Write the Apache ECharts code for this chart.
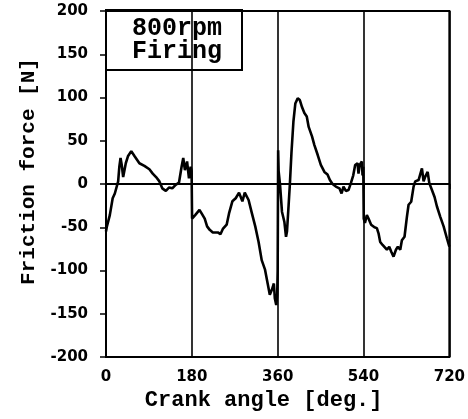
<!DOCTYPE html>
<html>
<head>
<meta charset="utf-8">
<script src="https://cdn.jsdelivr.net/npm/echarts@6/dist/echarts.min.js"></script>
<style>
  html, body { margin: 0; padding: 0; background: #fff; }
  #chart { width: 468px; height: 419px; }
</style>
</head>
<body>
<div id="chart"></div>
<script>
  // crank angle [deg.]
  let angle = [
    0, 1.5, 4, 8, 14, 18.5, 22, 25.5, 28, 30.5, 33, 36, 41.5, 46, 53, 60, 70, 80.5, 91, 98,
    105, 112, 118, 125.5, 132.5, 139, 146, 153, 158.5, 162, 165.5, 170, 174, 177.5, 179.5,
    180.5, 183.5, 187, 190, 196, 200.5, 207, 212, 217.5, 224, 234.5, 240, 245, 253, 258,
    265, 272, 279, 282, 286, 291, 294.5, 299, 306, 313, 320, 326.5, 333.5, 339, 343.5, 348,
    352, 354, 357, 359,
    360, 361, 362, 365, 369, 374, 377.5, 379.5, 383, 385.5, 389, 393, 397, 402, 406.5, 411,
    416, 421, 425, 432, 437, 444, 450.5, 458, 464.5, 469.5, 475, 482, 489.5, 494, 498, 503,
    508.5, 513.5, 518.5, 522.5, 527.5, 529.5, 532, 536.5, 538, 539.5,
    540.5, 543, 547, 550.5, 556, 563, 568, 571.5, 575, 580, 584, 589, 594, 598, 603, 608,
    612, 617, 620.5, 626, 631, 634.5, 640, 645, 648.5, 652, 655.5, 659, 662.5, 666, 669.5,
    674.5, 678, 683.5, 689, 694, 701, 708, 715, 720
  ]
  // friction force [N]
  let force = [
    -55, -50, -48, -36, -16.5, -11, -9, 3, 20, 30, 22, 8, 24, 32, 38, 32, 24, 21, 17, 12,
    8, 3, -5, -8, -4, -5, -1, 1.5, 20, 30, 16, 26, 6.6, 20, 15,
    -40, -40, -36, -34, -30, -34, -40, -49, -53, -56, -56, -58, -52, -47, -34,
    -20, -16.5, -10, -9, -20, -10, -9, -18.5, -34, -49, -67, -88, -99, -115, -128, -122,
    -115, -132, -140, -128,
    -100, 39, 15, -1, -32, -43.6, -61, -55, -24, -1, 37, 72, 93, 99, 97, 89,
    82, 78, 66, 55, 45, 33.5, 22, 14, 11, 4.6, 0, -3, -5, -11, -3, -8,
    -7, 1, 10, 22, 24, 12, 22, 26, 10, 20,
    -40, -45, -36, -40, -47, -50, -51, -57, -67, -70.5, -68.5, -76, -72.5, -78, -84, -76,
    -72.5, -76, -65, -61, -38, -24, -20.5, -3, 3, 1, 4.6, 3, 18, 3, 8.5,
    14, 1, -7, -15, -26, -38, -49, -63, -72.5
  ]
  let xTicks = [0, 720, 180]   // min, max, step
  let yTicks = [-200, 200, 50]
  let legendText = ['800rpm', 'Firing']

  let mono = '"Liberation Mono", "DejaVu Sans Mono", monospace'
  let sans = '"DejaVu Sans", sans-serif'

  let chart = echarts.init(document.getElementById('chart'), null, { renderer: 'canvas' })
  let option = {
    animation: false,
    backgroundColor: '#fff',
    title: {
      text: legendText.join('\n'),
      left: 106,
      top: 11,
      borderColor: '#000',
      borderWidth: 2,
      padding: [6, 20, 6, 26],
      textStyle: {
        fontFamily: mono,
        fontWeight: 'bold',
        fontSize: 25,
        lineHeight: 23,
        color: '#000'
      }
    },
    grid: {
      left: 106,
      right: 15,
      top: 11,
      bottom: 62,
      show: true,
      borderColor: '#000',
      borderWidth: 2,
      backgroundColor: 'transparent'
    },
    xAxis: {
      type: 'value',
      min: xTicks[0],
      max: xTicks[1],
      interval: xTicks[2],
      name: 'Crank angle [deg.]',
      nameLocation: 'middle',
      nameGap: 32,
      nameTextStyle: {
        fontFamily: mono,
        fontWeight: 'bold',
        fontSize: 22,
        color: '#000',
        padding: [0, 28, 0, 0]
      },
      axisLine: { lineStyle: { color: '#000', width: 2 } },
      axisTick: { inside: false, length: 5, lineStyle: { color: '#000', width: 1.5 } },
      axisLabel: { margin: 13, fontFamily: sans, fontWeight: 'bold', fontSize: 15, color: '#000' },
      splitLine: { show: true, lineStyle: { color: '#000', width: 1.6 } }
    },
    yAxis: {
      type: 'value',
      min: yTicks[0],
      max: yTicks[1],
      interval: yTicks[2],
      name: 'Friction force [N]',
      nameLocation: 'middle',
      nameGap: 67,
      nameRotate: 90,
      nameTextStyle: {
        fontFamily: mono,
        fontWeight: 'bold',
        fontSize: 21,
        color: '#000',
        padding: [0, 0, 0, 25]
      },
      axisLine: { onZero: false, lineStyle: { color: '#000', width: 2 } },
      axisTick: { inside: false, length: 6, lineStyle: { color: '#000', width: 1.5 } },
      axisLabel: { margin: 18, fontFamily: sans, fontWeight: 'bold', fontSize: 15, color: '#000' },
      splitLine: { show: false }
    },
    series: [{
      type: 'line',
      data: angle.map((a, i) => [a, force[i]]),
      showSymbol: false,
      symbol: 'none',
      lineStyle: { color: '#000', width: 2.6 },
      z: 5,
      markLine: {
        silent: true,
        symbol: 'none',
        label: { show: false },
        lineStyle: { color: '#000', width: 2, type: 'solid' },
        data: [{ yAxis: 0 }]
      }
    }]
  }
  chart.setOption(option)
</script>
</body>
</html>
